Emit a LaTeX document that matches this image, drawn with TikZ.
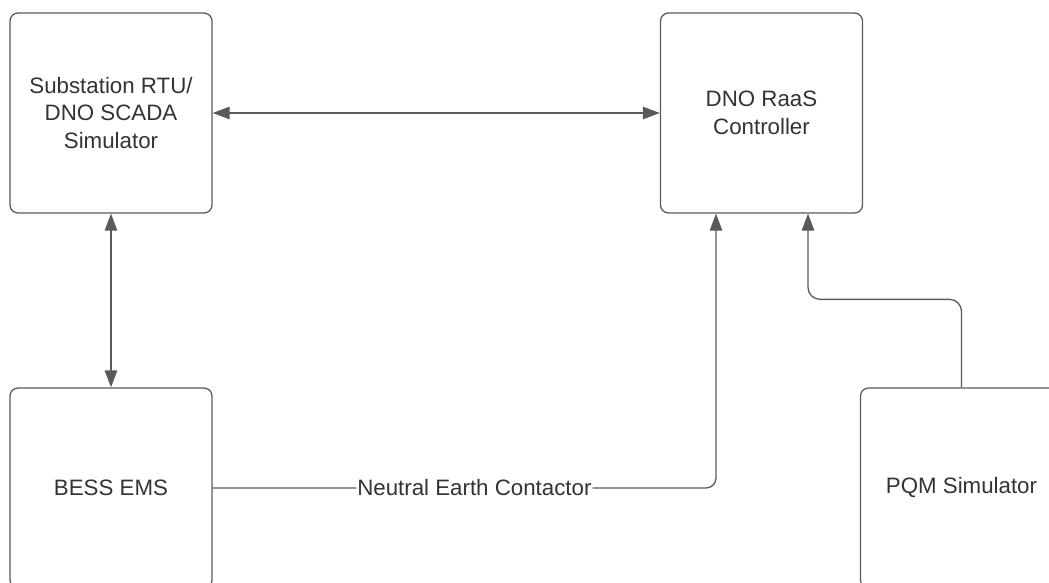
\documentclass[tikz,border=0pt]{standalone}
\usepackage{fontspec}
\setmainfont{Liberation Sans}
\usetikzlibrary{arrows.meta}
\definecolor{linec}{HTML}{5A5A5A}
\definecolor{textc}{HTML}{333333}
\tikzset{
  box/.style={draw=linec, line width=1.3pt, rounded corners=8pt, minimum width=202pt, minimum height=200pt, align=center, text=textc, font=\fontsize{22.3}{27.5}\selectfont, inner sep=0pt},
  conn/.style={draw=linec, line width=1.3pt, -{Triangle[length=17pt,width=12.5pt]}},
  bconn/.style={draw=linec, line width=1.3pt, {Triangle[length=17pt,width=12.5pt]}-{Triangle[length=17pt,width=12.5pt]}},
  lbl/.style={fill=white, text=textc, font=\fontsize{22.3}{27.5}\selectfont, inner sep=1pt}
}
\begin{document}
\begin{tikzpicture}[x=1pt,y=-1pt]
\useasboundingbox (0,0) rectangle (1049,582);
\clip (0,0) rectangle (1049,582);
\node[box] (rtu) at (111,113) {Substation RTU/\\DNO SCADA\\Simulator};
\node[box] (raas) at (761.5,113) {DNO RaaS\\Controller};
\node[box] (bess) at (111,488) {BESS EMS};
\node[box] (pqm) at (961.5,488) {PQM Simulator};
\draw[bconn] (rtu.east) -- (raas.west);
\draw[bconn] (rtu.south) -- (bess.north);
\draw[conn, rounded corners=10pt] (bess.east) -| node[lbl, pos=0.26] {Neutral Earth Contactor} ([xshift=-45.5pt]raas.south);
\draw[conn, rounded corners=12pt] (pqm.north) -- ++(0,-88) -| ([xshift=46.5pt]raas.south);
\end{tikzpicture}
\end{document}
